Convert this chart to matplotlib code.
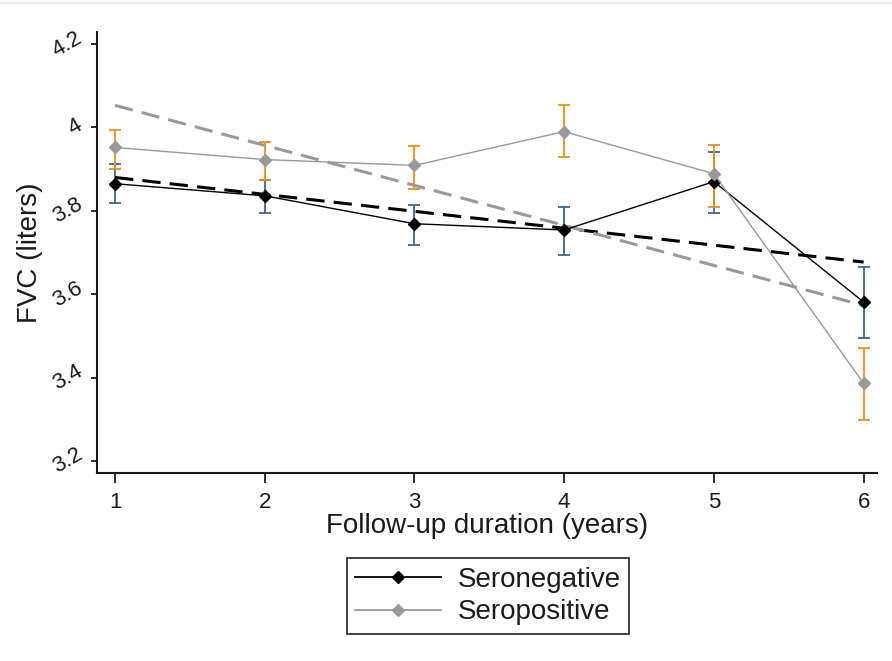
import numpy as np
import matplotlib.pyplot as plt
from matplotlib.lines import Line2D

plt.rcParams['font.family'] = ['Liberation Sans', 'DejaVu Sans']

# follow-up years
years = [1, 2, 3, 4, 5, 6]

# seronegative means with CI bounds
neg_mean = [3.865, 3.836, 3.769, 3.754, 3.870, 3.581]
neg_low = [3.819, 3.795, 3.718, 3.694, 3.795, 3.496]
neg_high = [3.913, 3.875, 3.814, 3.810, 3.940, 3.665]

# seropositive means with CI bounds
pos_mean = [3.952, 3.923, 3.909, 3.990, 3.889, 3.386]
pos_low = [3.901, 3.875, 3.853, 3.930, 3.810, 3.299]
pos_high = [3.993, 3.964, 3.955, 4.053, 3.959, 3.472]

# linear trend end points
fit_years = [1, 6]
neg_fit = [3.880, 3.677]
pos_fit = [4.053, 3.573]

yticks = [3.2, 3.4, 3.6, 3.8, 4.0, 4.2]
ytick_labels = ['3.2', '3.4', '3.6', '3.8', '4', '4.2']

neg_col = 'black'
pos_col = '#999999'
neg_err_col = '#3b6591'
pos_err_col = '#ee8f16'
txt_col = '#1a1a1a'

fig = plt.figure(figsize=(8.92, 6.61), dpi=100)
ax = fig.add_axes([0.1088, 0.2844, 0.874, 0.6672])

x = np.array(years)
neg = np.array(neg_mean)
pos = np.array(pos_mean)

# error bars first, so lines sit on top
ax.errorbar(x, neg, yerr=[neg - np.array(neg_low), np.array(neg_high) - neg],
            fmt='none', ecolor=neg_err_col, elinewidth=1.3, capsize=4.5,
            capthick=1.3, zorder=2)
ax.errorbar(x, pos, yerr=[pos - np.array(pos_low), np.array(pos_high) - pos],
            fmt='none', ecolor=pos_err_col, elinewidth=1.3, capsize=4.5,
            capthick=1.3, zorder=2)

# trend lines
ax.plot(fit_years, neg_fit, color=neg_col, lw=2.2, dashes=(6, 3), zorder=3)
ax.plot(fit_years, pos_fit, color=pos_col, lw=2.2, dashes=(6, 3), zorder=3)

# means
ax.plot(x, neg, color=neg_col, lw=1.0, marker='D', ms=6, zorder=4)
ax.plot(x, pos, color=pos_col, lw=1.0, marker='D', ms=6, zorder=4)

ax.set_xlim(0.88, 6.087)
ax.set_ylim(3.171, 4.229)
ax.set_xticks(years)
ax.set_yticks(yticks)
ax.set_yticklabels(ytick_labels, rotation=30, va='center', ha='right')

for side in ['top', 'right']:
    ax.spines[side].set_visible(False)
for side in ['left', 'bottom']:
    ax.spines[side].set_linewidth(1.5)
    ax.spines[side].set_color('#1a1a1a')
ax.tick_params(axis='both', direction='out', width=1.3,
               colors=txt_col, labelsize=16)
ax.tick_params(axis='x', length=7, pad=7)
ax.tick_params(axis='y', length=4, pad=4)

ax.set_xlabel('Follow-up duration (years)', fontsize=20, color=txt_col, labelpad=0)
ax.set_ylabel('FVC (liters)', fontsize=20, color=txt_col, labelpad=4)

handles = [Line2D([], [], color=neg_col, lw=1.3, marker='D', ms=6),
           Line2D([], [], color=pos_col, lw=1.3, marker='D', ms=6)]
leg = fig.legend(handles, ['Seronegative', 'Seropositive'], loc='center',
                 bbox_to_anchor=(488 / 892, 1 - 596 / 661), fontsize=20,
                 frameon=True, fancybox=False, edgecolor='black',
                 handlelength=3.1, borderpad=0.3, labelspacing=0.25,
                 handletextpad=0.6, borderaxespad=0)
leg.get_frame().set_linewidth(1.3)
for t in leg.get_texts():
    t.set_color(txt_col)

# faint screenshot border at the top
fig.add_artist(Line2D([0, 1], [1 - 3 / 661, 1 - 3 / 661], color='#e8e8e8', lw=1.5))

fig.savefig('out.png', dpi=100)
